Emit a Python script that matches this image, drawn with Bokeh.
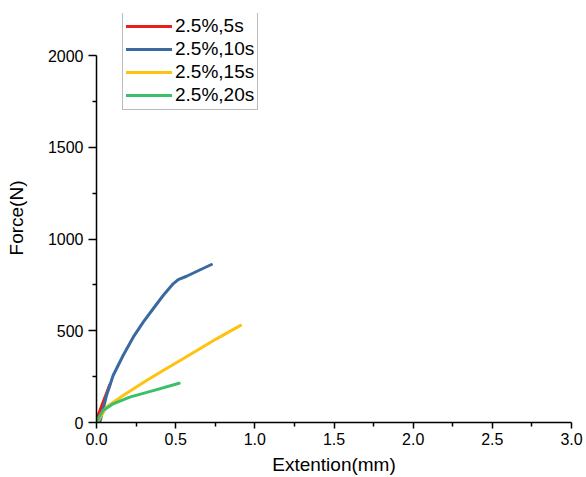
from bokeh.plotting import figure
from bokeh.models import Legend, LegendItem, FixedTicker, Range1d
from bokeh.embed import file_html
from bokeh.resources import INLINE

# Data
series_names = ["2.5%,5s", "2.5%,10s", "2.5%,15s", "2.5%,20s"]
series_colors = ["#ee1c1c", "#3a6aa0", "#ffc20e", "#3cbf6b"]

x_5s = [0.0, 0.01, 0.042, 0.084]
y_5s = [10, 38, 111, 205]

x_10s = [0.021, 0.063, 0.105, 0.168, 0.232, 0.295, 0.358, 0.421, 0.484, 0.516, 0.569, 0.632, 0.726]
y_10s = [0, 147, 256, 365, 465, 547, 620, 692, 756, 779, 797, 823, 861]

x_15s = [0.0, 0.01, 0.063, 0.168, 0.316, 0.421, 0.547, 0.758, 0.91]
y_15s = [0, 10, 84, 147, 229, 283, 347, 456, 529]

x_20s = [0.0, 0.01, 0.042, 0.105, 0.21, 0.358, 0.522]
y_20s = [0, 20, 65, 102, 138, 174, 214]

x_major = [0.0, 0.5, 1.0, 1.5, 2.0, 2.5, 3.0]
x_minor = [0.25, 0.75, 1.25, 1.75, 2.25, 2.75]
x_labels = ["0.0", "0.5", "1.0", "1.5", "2.0", "2.5", "3.0"]
y_major = [0, 500, 1000, 1500, 2000]
y_minor = [250, 750, 1250, 1750]
y_axis_top = 2000

FONT = "Liberation Sans"

# frame extends above the 2000 tick so the legend (which sits above it) is not clipped
p = figure(width=586, height=477, output_backend="svg", toolbar_location=None,
           x_range=Range1d(0, 3), y_range=Range1d(0, 2229),
           min_border_left=96, min_border_right=15, min_border_top=13, min_border_bottom=55)
p.outline_line_color = None
p.xgrid.visible = False
p.ygrid.visible = False
p.background_fill_color = "white"
p.border_fill_color = "white"

p.xaxis.ticker = FixedTicker(ticks=x_major, minor_ticks=x_minor)
p.xaxis.major_label_overrides = {t: l for t, l in zip(x_major, x_labels)}
p.yaxis.ticker = FixedTicker(ticks=y_major, minor_ticks=y_minor)
p.yaxis.bounds = (0, y_axis_top)

for ax in (p.xaxis[0], p.yaxis[0]):
    ax.axis_line_color = "black"
    ax.axis_line_width = 1.5
    ax.major_tick_line_color = "black"
    ax.minor_tick_line_color = "black"
    ax.major_tick_line_width = 1.5
    ax.minor_tick_line_width = 1.5
    ax.major_tick_in = 0
    ax.minor_tick_in = 0
    ax.minor_tick_out = 4
    ax.major_label_text_font = FONT
    ax.major_label_text_font_size = "16px"
    ax.major_label_text_color = "black"
    ax.axis_label_text_font = FONT
    ax.axis_label_text_font_size = "19px"
    ax.axis_label_text_font_style = "normal"
    ax.axis_label_text_color = "black"

p.xaxis.major_tick_out = 6
p.yaxis.major_tick_out = 8
p.xaxis.major_label_standoff = 4
p.yaxis.major_label_standoff = 5
p.xaxis.axis_label = "Extention(mm)"
p.yaxis.axis_label = "Force(N)"
p.xaxis.axis_label_standoff = 6
p.yaxis.axis_label_standoff = 18

xs = [x_5s, x_10s, x_15s, x_20s]
ys = [y_5s, y_10s, y_15s, y_20s]
renderers = []
for x, y, c in zip(xs, ys, series_colors):
    r = p.line(x, y, line_color=c, line_width=3, line_join="round", line_cap="round")
    renderers.append(r)

legend = Legend(items=[LegendItem(label=n, renderers=[r]) for n, r in zip(series_names, renderers)],
                location=(26, 312))
legend.label_text_font = FONT
legend.label_text_font_size = "19px"
legend.label_text_color = "black"
legend.glyph_width = 46
legend.glyph_height = 22
legend.label_height = 22
legend.label_standoff = 3
legend.spacing = 1
legend.padding = 3
legend.margin = 0
legend.border_line_color = "#777777"
legend.border_line_width = 1
legend.background_fill_alpha = 1.0
p.add_layout(legend, "center")

open("out.html", "w").write(file_html(p, INLINE))
